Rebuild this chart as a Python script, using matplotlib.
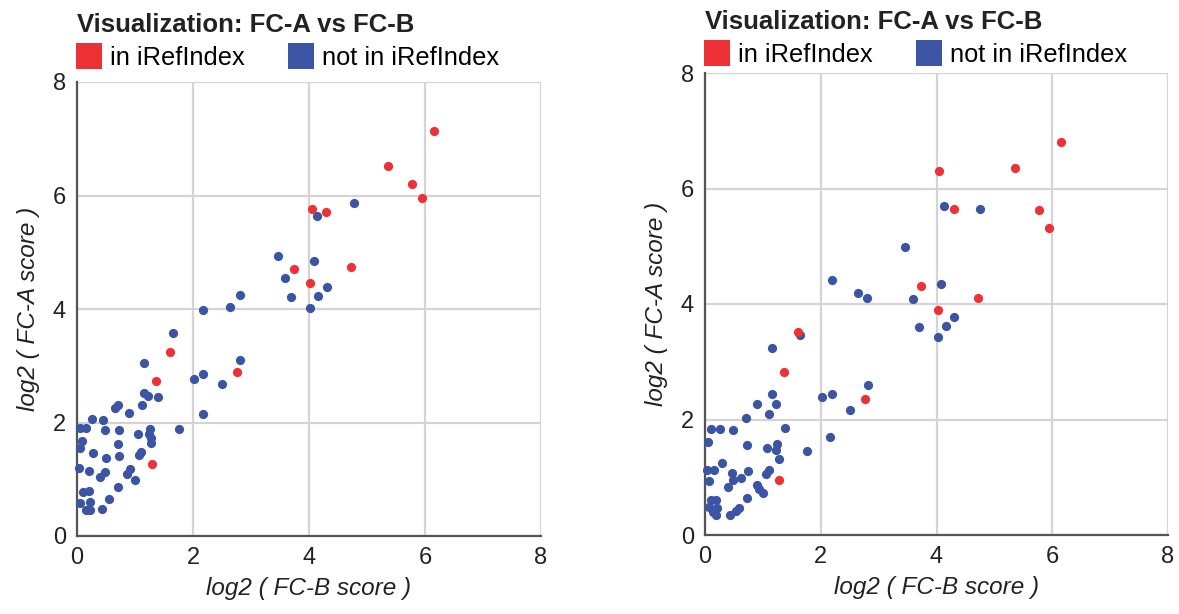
import matplotlib
matplotlib.use("Agg")
import matplotlib.pyplot as plt

plt.rcParams["font.family"] = ["Liberation Sans", "DejaVu Sans"]

W, H = 1179, 614
RED = "#ee3136"
BLUE = "#3c54a4"

TITLE = "Visualization: FC-A vs FC-B"
LEGEND_LABELS = ["in iRefIndex", "not in iRefIndex"]
XLABEL = "log2 ( FC-B score )"
YLABEL = "log2 ( FC-A score )"
TICKS = [0, 2, 4, 6, 8]

# left panel
left_red_x = [6.15, 5.36, 5.77, 5.95, 4.05, 4.30, 3.74, 4.02, 4.73, 1.60, 2.76, 1.37, 1.29]
left_red_y = [7.13, 6.52, 6.20, 5.96, 5.77, 5.71, 4.70, 4.46, 4.74, 3.25, 2.89, 2.73, 1.27]
left_blue_x = [4.13, 4.77, 3.46, 4.08, 3.59, 3.69, 4.16, 4.31, 4.02, 2.81, 2.64, 2.18,
               1.65, 1.15, 2.81, 2.02, 2.18, 2.50, 1.16, 1.22, 1.39, 1.12, 0.65, 0.71,
               0.90, 2.17, 0.26, 0.44, 0.06, 0.15, 0.49, 0.72, 1.25, 1.76, 1.06, 1.24,
               1.27, 1.27, 0.08, 0.06, 0.71, 0.28, 0.50, 0.73, 1.07, 1.10, 0.04, 0.20,
               0.48, 0.40, 0.91, 0.87, 1.00, 0.71, 0.11, 0.20, 0.56, 0.05, 0.22, 0.15,
               0.23, 0.43]
left_blue_y = [5.63, 5.87, 4.94, 4.85, 4.54, 4.22, 4.23, 4.38, 4.02, 4.24, 4.03, 3.99,
               3.57, 3.04, 3.10, 2.77, 2.86, 2.67, 2.52, 2.46, 2.45, 2.31, 2.25, 2.31,
               2.16, 2.15, 2.06, 2.05, 1.90, 1.90, 1.87, 1.87, 1.88, 1.88, 1.79, 1.80,
               1.72, 1.63, 1.68, 1.55, 1.62, 1.46, 1.37, 1.41, 1.43, 1.48, 1.20, 1.15,
               1.12, 1.04, 1.18, 1.10, 0.99, 0.86, 0.78, 0.79, 0.66, 0.58, 0.60, 0.45,
               0.45, 0.48]

# right panel
right_red_x = [6.15, 4.05, 5.36, 4.30, 5.77, 5.95, 3.74, 4.72, 4.03, 1.60, 1.37, 2.76, 1.28]
right_red_y = [6.81, 6.31, 6.36, 5.64, 5.62, 5.32, 4.31, 4.11, 3.89, 3.52, 2.82, 2.35, 0.95]
right_blue_x = [4.13, 4.76, 3.46, 4.08, 3.59, 3.69, 4.16, 4.31, 4.02, 2.19, 2.64, 2.80,
                1.64, 1.15, 1.16, 0.90, 1.23, 1.11, 2.02, 2.19, 0.71, 1.39, 0.10, 0.26,
                0.48, 2.16, 0.06, 0.73, 1.07, 1.25, 1.23, 1.76, 1.27, 0.29, 0.04, 0.16,
                0.46, 0.74, 1.11, 1.06, 0.07, 0.49, 0.63, 0.40, 0.89, 0.94, 1.01, 0.72,
                0.10, 0.19, 0.07, 0.20, 0.58, 0.54, 0.19, 0.43, 0.13, 2.81, 2.50]
right_blue_y = [5.70, 5.64, 4.98, 4.34, 4.09, 3.60, 3.62, 3.77, 3.42, 4.41, 4.19, 4.11,
                3.47, 3.24, 2.45, 2.27, 2.27, 2.10, 2.39, 2.45, 2.02, 1.86, 1.83, 1.83,
                1.81, 1.69, 1.61, 1.56, 1.51, 1.57, 1.47, 1.45, 1.32, 1.25, 1.13, 1.12,
                1.08, 1.11, 1.12, 1.06, 0.93, 0.96, 0.98, 0.83, 0.86, 0.79, 0.73, 0.64,
                0.61, 0.61, 0.49, 0.47, 0.47, 0.42, 0.35, 0.35, 0.40, 2.60, 2.16]


def fx(px):
    return px / W


def fy(py):
    # pixel row from top -> figure fraction
    return 1 - py / H


def draw_panel(fig, rect, red_x, red_y, blue_x, blue_y, title_base, legend_mid):
    ax = fig.add_axes(rect)
    ax.scatter(blue_x, blue_y, s=44, color=BLUE, linewidths=0, zorder=3, clip_on=False)
    ax.scatter(red_x, red_y, s=44, color=RED, linewidths=0, zorder=3, clip_on=False)
    ax.set_xlim(0, 8)
    ax.set_ylim(0, 8)
    ax.set_xticks(TICKS)
    ax.set_yticks(TICKS)
    ax.grid(True, color="#d4d4d4", linewidth=1.6, zorder=0)
    ax.set_axisbelow(True)
    for side in ["top", "right"]:
        ax.spines[side].set_visible(False)
    for side in ["left", "bottom"]:
        ax.spines[side].set_color("#555555")
        ax.spines[side].set_linewidth(1.6)
        ax.spines[side].set_zorder(2)
    ax.tick_params(length=0, labelsize=17, colors="#222222", pad=8)
    ax.set_xlabel(XLABEL, fontsize=17.5, style="italic", color="#222222", labelpad=6)
    ax.set_ylabel(YLABEL, fontsize=17.5, style="italic", color="#222222", labelpad=9)

    # title + legend above the axes, left aligned with the y axis
    left = rect[0]
    fig.text(left, fy(title_base), TITLE, fontsize=18.5, fontweight="bold",
             color="#222222", ha="left", va="baseline")
    handles = [plt.Line2D([], [], marker="s", linestyle="", markersize=19,
                          markerfacecolor=c, markeredgewidth=0) for c in (RED, BLUE)]
    fig.legend(handles, LEGEND_LABELS, loc="center left",
               bbox_to_anchor=(left - 0.001, fy(legend_mid)), ncol=2, frameon=False,
               fontsize=18.3, handlelength=1.0, handletextpad=0.35, columnspacing=1.7,
               borderaxespad=0, borderpad=0)
    return ax


fig = plt.figure(figsize=(W / 100, H / 100), dpi=100)

draw_panel(fig, [fx(77), fy(536), fx(541) - fx(77), fy(82) - fy(536)],
           left_red_x, left_red_y, left_blue_x, left_blue_y, 32, 58)
draw_panel(fig, [fx(705), fy(535), fx(1168) - fx(705), fy(73) - fy(535)],
           right_red_x, right_red_y, right_blue_x, right_blue_y, 29, 55)

fig.savefig("out.png", dpi=100)
